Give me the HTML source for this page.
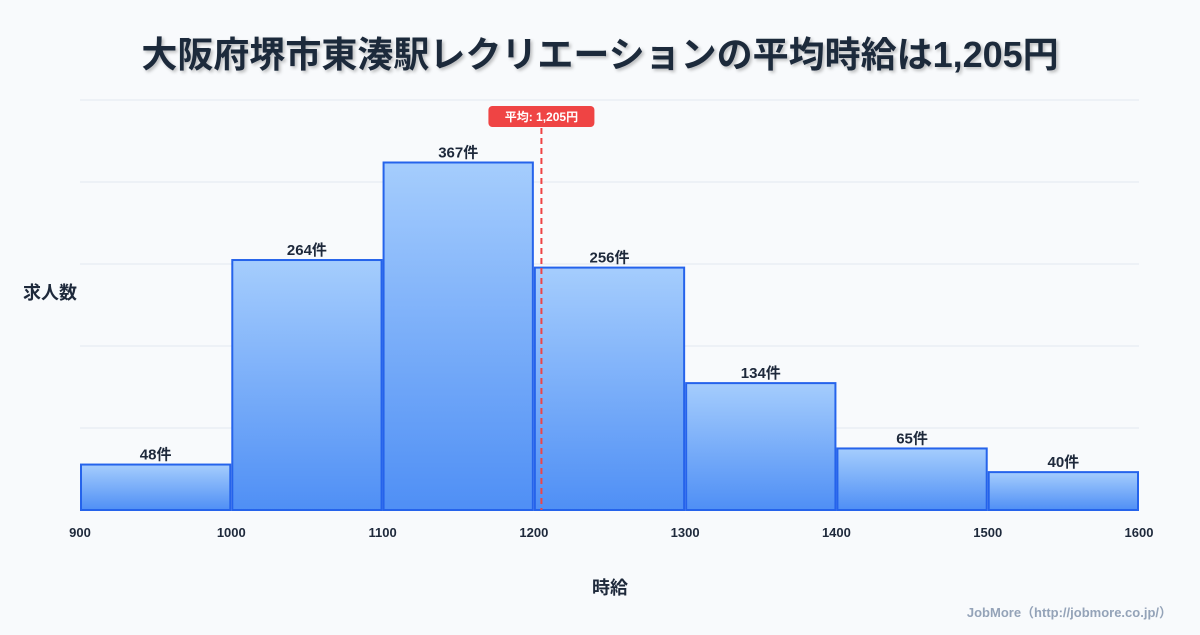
<!DOCTYPE html>
<html><head><meta charset="utf-8">
<style>
body{margin:0;width:1200px;height:630px;background:#f8fafc;font-family:"Liberation Sans","Noto Sans CJK JP",sans-serif;overflow:hidden}
</style></head><body>
<svg width="1200" height="630" xmlns="http://www.w3.org/2000/svg" id="chart">
<defs>
<linearGradient id="g" x1="0" y1="0" x2="0" y2="1"><stop offset="0" stop-color="#a5cdfd"/><stop offset="1" stop-color="#4f8ff5"/></linearGradient>
<filter id="sh"><feDropShadow dx="2" dy="2" stdDeviation="1.5" flood-color="#000" flood-opacity="0.25"/></filter>
</defs>
<text x="600" y="67" text-anchor="middle" font-size="36" font-weight="bold" fill="#1e293b" filter="url(#sh)" font-family="Liberation Sans, Noto Sans CJK JP, sans-serif">大阪府堺市東湊駅レクリエーションの平均時給は1,205円</text>
<g id="grid"></g><g id="bars"></g><g id="xt"></g>
<text x="50" y="299" text-anchor="middle" font-size="18" font-weight="bold" fill="#1e293b">求人数</text>
<text x="610" y="594" text-anchor="middle" font-size="18" font-weight="bold" fill="#1e293b">時給</text>
<text x="1172" y="617" text-anchor="end" font-size="13" font-weight="bold" fill="#94a3b8">JobMore（http://jobmore.co.jp/）</text>
</svg>
<script>
const binStarts=[900,1000,1100,1200,1300,1400,1500];
const counts=[48,264,367,256,134,65,40];
const xTicks=[900,1000,1100,1200,1300,1400,1500,1600];
const meanValue=1205;
const meanLabel="平均: 1,205円";
const NS="http://www.w3.org/2000/svg";
const x0=80,x1=1139,yB=510,yT=100,xmin=900,xmax=1600,ymax=433;
const X=v=>x0+(v-xmin)/(xmax-xmin)*(x1-x0);
const Y=v=>yB-v/ymax*(yB-yT);
function mk(t,a,p){const e=document.createElementNS(NS,t);for(const k in a)e.setAttribute(k,a[k]);p.appendChild(e);return e;}
const grid=document.getElementById('grid');
for(let i=0;i<=5;i++){const y=yT+i*(yB-yT)/5;const l=mk('line',{x1:x0,x2:x1,y1:y,y2:y,stroke:'#e2e8f0','stroke-width':1},grid);

}
const bars=document.getElementById('bars');
binStarts.forEach((b,i)=>{const xa=X(b)+1,xb=X(b+100)-1,y=Y(counts[i]);
const r=mk('rect',{x:xa,y:y,width:xb-xa,height:yB-y,fill:'url(#g)',stroke:'#2563eb','stroke-width':2},bars);


const t=mk('text',{x:(xa+xb)/2,y:y-5,'text-anchor':'middle','font-size':15,'font-weight':'bold',fill:'#1e293b'},bars);t.textContent=counts[i]+'件';

});
const xt=document.getElementById('xt');
xTicks.forEach(v=>{const t=mk('text',{x:X(v),y:537,'text-anchor':'middle','font-size':13,'font-weight':'bold',fill:'#1e293b'},xt);t.textContent=v;

});
const mx=X(meanValue);
const ml=mk('line',{x1:mx,x2:mx,y1:128,y2:yB,stroke:'#ef4444','stroke-width':2,'stroke-dasharray':'6,4'},xt);


const mb=mk('rect',{x:mx-53,y:106,width:106,height:21,rx:4,fill:'#ef4444'},xt);


const mt=mk('text',{x:mx,y:121,'text-anchor':'middle','font-size':12,'font-weight':'bold',fill:'#fff'},xt);mt.textContent=meanLabel;


</script>
</body></html>
